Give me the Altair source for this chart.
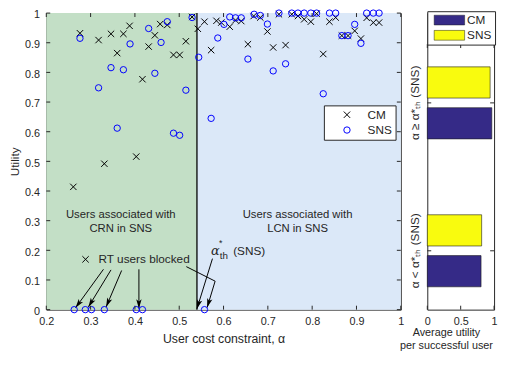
import math
import altair as alt
import pandas as pd

FONT = "Liberation Sans"
SERIF = "DejaVu Serif"
AX = "#262626"
GREEN = "#c3dfc6"
BLUE = "#dbe8f8"
NAVY = "#352a87"
YELLOW = "#f9fb0e"
XPATH = "M-1,-1L1,1M-1,1L1,-1"
ARROW = "M0,0L-0.5,1.7L0,1.3L0.5,1.7Z"
RECT = "M-3.1,-1H3.1V1H-3.1Z"

# ---------------- data ----------------
series_names = ["CM", "SNS"]

cm_alpha = [0.261, 0.276, 0.318, 0.331, 0.346, 0.360, 0.374, 0.388, 0.403, 0.417,
            0.431, 0.445, 0.457, 0.473, 0.487, 0.501, 0.515, 0.529, 0.542,
            0.557, 0.572, 0.584, 0.595, 0.614, 0.627, 0.640, 0.655, 0.668, 0.683,
            0.699, 0.712, 0.725, 0.740, 0.754, 0.768, 0.782, 0.797, 0.810, 0.825,
            0.839, 0.853, 0.867, 0.881, 0.896, 0.910, 0.923, 0.938, 0.951]
cm_util = [0.414, 0.932, 0.909, 0.492, 0.930, 0.865, 0.930, 0.957, 0.516, 0.777,
           0.887, 0.925, 0.963, 0.960, 0.859, 0.859, 0.905, 0.987, 0.947,
           0.971, 0.875, 0.974, 0.968, 0.954, 0.976, 0.973, 0.895, 0.990, 0.985,
           0.938, 0.884, 0.996, 0.892, 0.996, 0.990, 0.979, 0.971, 0.998, 0.862,
           0.971, 0.985, 0.924, 0.924, 0.940, 0.914, 0.984, 0.968, 0.968]

sns_alpha = [0.263, 0.288, 0.302, 0.331, 0.403, 0.417,
             0.276, 0.318, 0.346, 0.360, 0.374, 0.389, 0.431, 0.445, 0.459, 0.473,
             0.487, 0.501, 0.515, 0.529,
             0.544, 0.557, 0.572, 0.587, 0.601, 0.614, 0.627, 0.640, 0.655, 0.669,
             0.683, 0.699, 0.712, 0.725, 0.740, 0.754, 0.768, 0.782, 0.797, 0.810,
             0.825, 0.839, 0.853, 0.867, 0.881, 0.896, 0.910, 0.923, 0.938, 0.951]
sns_util = [0.0, 0.0, 0.0, 0.0, 0.0, 0.0,
            0.915, 0.748, 0.816, 0.612, 0.809, 0.896, 0.948, 0.797, 0.901, 0.971,
            0.595, 0.588, 0.740, 0.985,
            0.851, 0.0, 0.645, 0.916, 0.962, 0.987, 0.984, 0.984, 0.845, 0.996,
            0.992, 0.963, 0.805, 1.0, 0.829, 1.0, 1.0, 1.0, 1.0, 1.0,
            0.728, 1.0, 1.0, 0.924, 0.924, 0.962, 0.898, 1.0, 1.0, 1.0]

alpha_min = 0.2
alpha_max = 1.0
alpha_th = 0.54
x_ticks = [0.2, 0.3, 0.4, 0.5, 0.6, 0.7, 0.8, 0.9, 1.0]
y_ticks = [0.0, 0.1, 0.2, 0.3, 0.4, 0.5, 0.6, 0.7, 0.8, 0.9, 1.0]

# annotations (data coordinates)
region_labels = ["Users associated with\nCRN in SNS", "Users associated with\nLCN in SNS"]
region_label_x = [0.368, 0.767]
region_label_y = [0.319, 0.319]

blocked_label = "RT users blocked"
blocked_marker_x, blocked_marker_y = 0.2886, 0.1696
blocked_text_x, blocked_text_y = 0.318, 0.1696

seg_x0 = [0.329, 0.346, 0.370, 0.409, 0.516, 0.581, 0.575]
seg_y0 = [0.136, 0.134, 0.132, 0.136, 0.145, 0.096, 0.172]
seg_x1 = [0.266, 0.295, 0.335, 0.409, 0.581, 0.563, 0.540]
seg_y1 = [0.006, 0.009, 0.009, 0.004, 0.096, 0.007, 0.003]
seg_head = [True, True, True, True, False, True, True]

th_alpha_pos = (0.5817, 0.197)
th_star_pos = (0.5938, 0.224)
th_sub_pos = (0.6005, 0.1816)
th_sns_pos = (0.6217, 0.197)

# right panel
bar_groups = ["α ≥ α*ₜₕ (SNS)", "α < α*ₜₕ (SNS)"]
bar_order = ["SNS", "CM"]
bar_values = {"CM": [0.966, 0.805], "SNS": [0.941, 0.814]}
bar_ticks = [0, 0.5, 1]

# ---------------- layout ----------------
W, H = 361, 302
W2 = 68
LEG_BOTTOM = 31.6

xscale = alt.Scale(domain=[alpha_min, alpha_max], nice=False, zero=False)
yscale = alt.Scale(domain=[0, 1], nice=False, zero=False)
AXIS_X = alt.Axis(values=x_ticks, format="~g", title="User cost constraint, α",
                  labelPadding=6, labelFlush=False, titleBaseline="top", titleY=23.5,
                  titleFontSize=12.5)
AXIS_Y = alt.Axis(values=y_ticks, format="~g", title="Utility", labelPadding=7,
                  labelBaseline="middle", labelFlush=False, labelOffset=2,
                  titleX=-32, titleY=H / 2, titleAngle=270, titleAlign="center",
                  titleBaseline="middle")


def X(f):
    return alt.X(f, type="quantitative", scale=xscale, axis=AXIS_X)


def Y(f):
    return alt.Y(f, type="quantitative", scale=yscale, axis=AXIS_Y)


regions = pd.DataFrame({"x0": [alpha_min, alpha_th], "x1": [alpha_th, alpha_max],
                        "y0": [0.0, 0.0], "y1": [1.0, 1.0], "r": ["CRN", "LCN"]})
crn = alt.Chart(regions).transform_filter(alt.datum.r == "CRN").mark_rect(color=GREEN).encode(
    x=X("x0"), x2="x1", y=Y("y0"), y2="y1")
lcn = alt.Chart(regions).transform_filter(alt.datum.r == "LCN").mark_rect(color=BLUE).encode(
    x=X("x0"), x2="x1", y=Y("y0"), y2="y1")
thr = alt.Chart(pd.DataFrame({"a": [alpha_th]})).mark_rule(color="black", strokeWidth=1.3).encode(
    x=X("a"))

pts = pd.DataFrame({
    "alpha": cm_alpha + sns_alpha,
    "utility": cm_util + sns_util,
    "series": ["CM"] * len(cm_alpha) + ["SNS"] * len(sns_alpha),
})
leg1 = alt.Legend(orient="none", legendX=282.7, legendY=94, title=None,
                  strokeColor=AX, fillColor="white", padding=3.5, rowPadding=3.6, clipHeight=12,
                  symbolOffset=14, labelOffset=15, symbolSize=42, symbolStrokeWidth=1,
                  labelFontSize=12, labelFont=FONT, labelColor=AX)
points = alt.Chart(pts).mark_point(filled=False, size=42, strokeWidth=1, opacity=1).encode(
    x=X("alpha"), y=Y("utility"),
    shape=alt.Shape("series:N", scale=alt.Scale(domain=series_names, range=[XPATH, "circle"]), legend=leg1),
    color=alt.Color("series:N", scale=alt.Scale(domain=series_names, range=["black", "#0000ff"]), legend=leg1),
)

rtxt = pd.DataFrame({"x": region_label_x, "y": region_label_y, "t": region_labels})
region_text = alt.Chart(rtxt).mark_text(font=FONT, fontSize=11.5, color=AX, lineBreak="\n",
                                        lineHeight=14.6, align="center", baseline="middle").encode(
    x=X("x"), y=Y("y"), text="t:N")

bm = alt.Chart(pd.DataFrame({"x": [blocked_marker_x], "y": [blocked_marker_y]})).mark_point(
    shape=XPATH, size=42, strokeWidth=1, color="black", opacity=1, filled=False).encode(x=X("x"), y=Y("y"))
bt = alt.Chart(pd.DataFrame({"x": [blocked_text_x], "y": [blocked_text_y], "t": [blocked_label]})).mark_text(
    font=FONT, fontSize=12, color=AX, align="left", baseline="middle").encode(x=X("x"), y=Y("y"), text="t:N")

segs = pd.DataFrame({"x0": seg_x0, "y0": seg_y0, "x1": seg_x1, "y1": seg_y1, "head": seg_head})
ppx = W / (alpha_max - alpha_min)
ppy = H / 1.0
segs["angle"] = [
    (math.degrees(math.atan2((b - a) * ppx, (d - c) * ppy)) + 360) % 360
    for a, b, c, d in zip(segs.x0, segs.x1, segs.y0, segs.y1)
]
seg_lines = alt.Chart(segs).mark_rule(color="black", strokeWidth=1).encode(
    x=X("x0"), y=Y("y0"), x2="x1", y2="y1")
heads = alt.Chart(segs[segs["head"]]).mark_point(shape=ARROW, size=120, filled=True, color="black",
                                                 opacity=1, strokeWidth=0).encode(
    x=X("x1"), y=Y("y1"), angle=alt.Angle("angle:Q", scale=None))

th_a = alt.Chart(pd.DataFrame({"x": [th_alpha_pos[0]], "y": [th_alpha_pos[1]], "t": ["α"]})).mark_text(
    font=SERIF, fontStyle="italic", fontSize=13, color=AX, align="center", baseline="middle").encode(
    x=X("x"), y=Y("y"), text="t:N")
th_s = alt.Chart(pd.DataFrame({"x": [th_star_pos[0]], "y": [th_star_pos[1]], "t": ["*"]})).mark_text(
    font=FONT, fontSize=9, color=AX, align="center", baseline="middle").encode(x=X("x"), y=Y("y"), text="t:N")
th_b = alt.Chart(pd.DataFrame({"x": [th_sub_pos[0]], "y": [th_sub_pos[1]], "t": ["th"]})).mark_text(
    font=FONT, fontSize=10, color=AX, align="center", baseline="middle").encode(x=X("x"), y=Y("y"), text="t:N")
th_n = alt.Chart(pd.DataFrame({"x": [th_sns_pos[0]], "y": [th_sns_pos[1]], "t": ["(SNS)"]})).mark_text(
    font=FONT, fontSize=12, color=AX, align="left", baseline="middle").encode(x=X("x"), y=Y("y"), text="t:N")

xt = pd.DataFrame({"t": x_ticks})
yt = pd.DataFrame({"t": y_ticks})
tk = dict(color=AX, strokeWidth=1)
xt_b = alt.Chart(xt).mark_rule(**tk).encode(x=X("t"), y=alt.value(H), y2=alt.value(H - 4))
xt_t = alt.Chart(xt).mark_rule(**tk).encode(x=X("t"), y=alt.value(0), y2=alt.value(4))
yt_l = alt.Chart(yt).mark_rule(**tk).encode(y=Y("t"), x=alt.value(0), x2=alt.value(4))
yt_r = alt.Chart(yt).mark_rule(**tk).encode(y=Y("t"), x=alt.value(W), x2=alt.value(W - 4))

left = alt.layer(crn, lcn, thr, region_text, bm, bt, th_a, th_s, th_b, th_n,
                 seg_lines, heads, points, xt_b, xt_t, yt_l, yt_r).properties(width=W, height=H)

# ---------------- right panel ----------------
bar_df = pd.DataFrame({
    "condition": [g for g in bar_groups for _ in bar_order],
    "method": bar_order * len(bar_groups),
    "utility": [bar_values[m][i] for i in range(len(bar_groups)) for m in bar_order],
})
xs2 = alt.Scale(domain=[0, 1], nice=False, zero=False)
ys2 = alt.Scale(domain=bar_groups, paddingInner=0.513, paddingOuter=0.259, align=0.702)
AXIS_X2 = alt.Axis(values=bar_ticks, format="~g", title=["Average utility", "per successful user"],
                   labelPadding=6, labelFlush=False, titleBaseline="top", titleY=17.5,
                   titleLineHeight=13, titleX=19, titleAlign="center", titleFontSize=11)
AXIS_Y2 = alt.Axis(title=None, labelAngle=270, labelAlign="center", labelBaseline="bottom",
                   labelPadding=6, labelFontSize=12)
leg2 = alt.Legend(orient="none", legendX=0, legendY=-1.9, title=None, direction="vertical",
                  symbolType=RECT, symbolSize=100, symbolStrokeColor="#1a1a1a", symbolStrokeWidth=0.5,
                  strokeColor=AX, fillColor="white", padding=3, rowPadding=3.5, clipHeight=12,
                  symbolOffset=13.5, labelOffset=12, labelFontSize=12, labelFont=FONT, labelColor=AX)

bars = alt.Chart(bar_df).mark_bar(stroke="#1a1a1a", strokeWidth=0.6, opacity=1).encode(
    x=alt.X("utility:Q", scale=xs2, axis=AXIS_X2),
    y=alt.Y("condition:N", scale=ys2, axis=AXIS_Y2),
    yOffset=alt.YOffset("method:N", scale=alt.Scale(domain=bar_order, paddingInner=0.236, paddingOuter=0)),
    color=alt.Color("method:N", scale=alt.Scale(domain=series_names, range=[NAVY, YELLOW]), legend=leg2),
)
bt_df = pd.DataFrame({"t": bar_ticks})
gt_df = pd.DataFrame({"g": bar_groups})
r_xb = alt.Chart(bt_df).mark_rule(**tk).encode(
    x=alt.X("t:Q", scale=xs2, axis=AXIS_X2), y=alt.value(H), y2=alt.value(H - 4))
r_xt = alt.Chart(bt_df).mark_rule(**tk).encode(
    x=alt.X("t:Q", scale=xs2, axis=AXIS_X2), y=alt.value(LEG_BOTTOM), y2=alt.value(LEG_BOTTOM + 4))
r_yl = alt.Chart(gt_df).mark_rule(**tk).encode(
    y=alt.Y("g:N", scale=ys2, axis=AXIS_Y2), x=alt.value(0), x2=alt.value(4))
r_yr = alt.Chart(gt_df).mark_rule(**tk).encode(
    y=alt.Y("g:N", scale=ys2, axis=AXIS_Y2), x=alt.value(W2), x2=alt.value(W2 - 4))

right = alt.layer(bars, r_xb, r_xt, r_yl, r_yr).properties(width=W2, height=H)

chart = alt.hconcat(left, right, spacing=27, bounds="flush").resolve_scale(
    color="independent", shape="independent"
).properties(padding={"top": -4, "left": 0, "right": 0, "bottom": 0}).configure_view(
    stroke=AX, strokeWidth=1
).configure_axis(
    labelFont=FONT, titleFont=FONT, labelColor=AX, titleColor=AX, labelFontSize=11,
    titleFontSize=12, titleFontWeight="normal", grid=False, domain=False, ticks=False, tickSize=0
)

chart.save("out.html", embed_options={"renderer": "svg", "actions": False})
